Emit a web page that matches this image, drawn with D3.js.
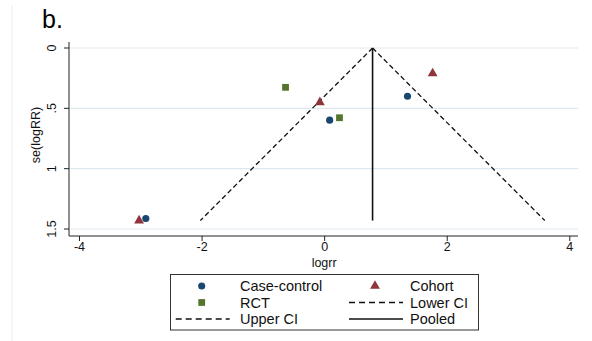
<!DOCTYPE html>
<html>
<head>
<meta charset="utf-8">
<script src="https://cdn.jsdelivr.net/npm/d3@7"></script>
<style>
  body { margin: 0; background: #fff; }
  svg { font-family: "Liberation Sans", Arial, sans-serif; }
</style>
</head>
<body>
<svg id="graph" width="592" height="341"></svg>
<script>
// studies: logrr (x) and se(logRR) (y)
const caseControl = [
  { x: -2.91, y: 1.413 },
  { x: 0.09, y: 0.598 },
  { x: 1.36, y: 0.40 },
];
const cohort = [
  { x: -3.02, y: 1.43 },
  { x: -0.07, y: 0.45 },
  { x: 1.77, y: 0.21 },
];
const rct = [
  { x: -0.63, y: 0.326 },
  { x: 0.25, y: 0.578 },
];
const lowerCI = [ { x: 0.79, y: 0 }, { x: -2.02, y: 1.43 } ];
const upperCI = [ { x: 0.79, y: 0 }, { x: 3.6, y: 1.43 } ];
const pooled = [ { x: 0.79, y: 0 }, { x: 0.79, y: 1.43 } ];

const xTicks = [ -4, -2, 0, 2, 4 ];
const xTickLabels = [ "-4", "-2", "0", "2", "4" ];
const yTicks = [ 0, 0.5, 1, 1.5 ];
const yTickLabels = [ "0", ".5", "1", "1.5" ];
const legendLabels = [ "Case-control", "Cohort", "RCT", "Lower CI", "Upper CI", "Pooled" ];

const NAVY = "#1a476f";
const MAROON = "#90353b";
const GREEN = "#55752f";

const graph = d3.select( "#graph" );

const xRange = d3.scaleLinear().domain( [ -4, 4 ] ).range( [ 79, 569.3 ] );
const yRange = d3.scaleLinear().domain( [ 0, 1.5 ] ).range( [ 48, 229 ] );
const PLOT = { left: 69, right: 578, top: 42, bottom: 236 };

// faint outer border
graph.append( "line" )
  .attr( "x1", 12 ).attr( "x2", 12 ).attr( "y1", 5 ).attr( "y2", 341 )
  .attr( "stroke", "#e4eef2" ).attr( "stroke-width", 1 );

graph.append( "text" )
  .attr( "x", 42 ).attr( "y", 28 )
  .attr( "font-size", 25 )
  .text( "b." );

// grid
graph.append( "g" )
  .selectAll( "line" )
  .data( yTicks )
  .join( "line" )
  .attr( "x1", PLOT.left ).attr( "x2", PLOT.right )
  .attr( "y1", d => yRange( d ) ).attr( "y2", d => yRange( d ) )
  .attr( "stroke", "#dde9ef" ).attr( "stroke-width", 1.2 );

// axes
const xAxis = d3.axisBottom( xRange ).tickValues( xTicks ).tickSize( 5 ).tickSizeOuter( 0 ).tickPadding( 1 )
  .tickFormat( ( d, i ) => xTickLabels[i] );
const yAxis = d3.axisLeft( yRange ).tickValues( yTicks ).tickSize( 5 ).tickSizeOuter( 0 )
  .tickFormat( ( d, i ) => yTickLabels[i] );

const gx = graph.append( "g" )
  .attr( "transform", `translate(0,${PLOT.bottom})` )
  .call( xAxis );
gx.select( ".domain" ).attr( "d", `M${PLOT.left},0H${PLOT.right}` );
gx.selectAll( "text" ).attr( "font-size", 12.5 ).attr( "fill", "#111" ).attr( "font-family", null );

const gy = graph.append( "g" )
  .attr( "transform", `translate(${PLOT.left},0)` )
  .call( yAxis );
gy.select( ".domain" ).attr( "d", `M0,${PLOT.top}V${PLOT.bottom}` );
gy.selectAll( "text" )
  .attr( "font-size", 12.5 ).attr( "fill", "#111" ).attr( "font-family", null )
  .attr( "x", null ).attr( "dy", null )
  .attr( "text-anchor", "middle" )
  .attr( "transform", d => `translate(-13,${yRange( d )}) rotate(-90)` )
  .attr( "y", 0 );
gy.selectAll( ".tick" ).attr( "transform", null );
gy.selectAll( ".tick line" )
  .attr( "y1", d => yRange( d ) ).attr( "y2", d => yRange( d ) );

graph.selectAll( ".domain, .tick line" ).attr( "stroke", "#222" );

graph.append( "text" )
  .attr( "x", xRange( 0 ) ).attr( "y", 267 )
  .attr( "text-anchor", "middle" ).attr( "font-size", 12.5 ).attr( "fill", "#111" )
  .text( "logrr" );

graph.append( "text" )
  .attr( "transform", `translate(40,${( PLOT.top + PLOT.bottom ) / 2 - 4}) rotate(-90)` )
  .attr( "text-anchor", "middle" ).attr( "font-size", 12.5 ).attr( "fill", "#111" )
  .text( "se(logRR)" );

// funnel lines
const lineFunc = d3.line().x( d => xRange( d.x ) ).y( d => yRange( d.y ) );
graph.append( "path" ).attr( "d", lineFunc( lowerCI ) )
  .attr( "stroke", "#111" ).attr( "stroke-width", 1.3 ).attr( "stroke-dasharray", "5,3" ).attr( "fill", "none" );
graph.append( "path" ).attr( "d", lineFunc( upperCI ) )
  .attr( "stroke", "#111" ).attr( "stroke-width", 1.3 ).attr( "stroke-dasharray", "5,3" ).attr( "fill", "none" );
graph.append( "path" ).attr( "d", lineFunc( pooled ) )
  .attr( "stroke", "#111" ).attr( "stroke-width", 1.6 ).attr( "fill", "none" );

// markers
const circleSym = d3.symbol( d3.symbolCircle, 40 );
const triSym = d3.symbol( d3.symbolTriangle, 42 );
const sqSym = d3.symbol( d3.symbolSquare, 46 );

const markerSets = [
  { data: caseControl, sym: circleSym, color: NAVY },
  { data: cohort, sym: triSym, color: MAROON },
  { data: rct, sym: sqSym, color: GREEN },
];
markerSets.forEach( s => {
  graph.append( "g" )
    .selectAll( "path" )
    .data( s.data )
    .join( "path" )
    .attr( "d", s.sym )
    .attr( "transform", d => `translate(${xRange( d.x )},${yRange( d.y )})` )
    .attr( "fill", s.color );
} );

// legend
const legend = graph.append( "g" );
legend.append( "rect" )
  .attr( "x", 170.5 ).attr( "y", 274.5 ).attr( "width", 308 ).attr( "height", 55.5 )
  .attr( "fill", "#fff" ).attr( "stroke", "#333" ).attr( "stroke-width", 1 );

const rowY = [ 286, 302.5, 319 ];
const keyX = [ 201.7, 375 ];
const textX = [ 240, 410 ];
const keys = [
  { type: "sym", sym: circleSym, color: NAVY },
  { type: "sym", sym: triSym, color: MAROON },
  { type: "sym", sym: sqSym, color: GREEN },
  { type: "dash" },
  { type: "dash" },
  { type: "solid" },
];

legendLabels.forEach( ( label, i ) => {
  const col = i % 2;
  const row = Math.floor( i / 2 );
  const k = keys[i];
  const cx = keyX[col];
  const cy = rowY[row];
  if ( k.type === "sym" ) {
    legend.append( "path" ).attr( "d", k.sym )
      .attr( "transform", `translate(${cx},${cy})` ).attr( "fill", k.color );
  } else {
    legend.append( "line" )
      .attr( "x1", cx - 26 ).attr( "x2", cx + 28 ).attr( "y1", cy ).attr( "y2", cy )
      .attr( "stroke", "#111" ).attr( "stroke-width", 1.5 )
      .attr( "stroke-dasharray", k.type === "dash" ? "6,4" : null );
  }
  legend.append( "text" )
    .attr( "x", textX[col] ).attr( "y", cy ).attr( "dy", "0.35em" )
    .attr( "font-size", 14.5 ).attr( "fill", "#111" )
    .text( label );
} );
</script>
</body>
</html>
